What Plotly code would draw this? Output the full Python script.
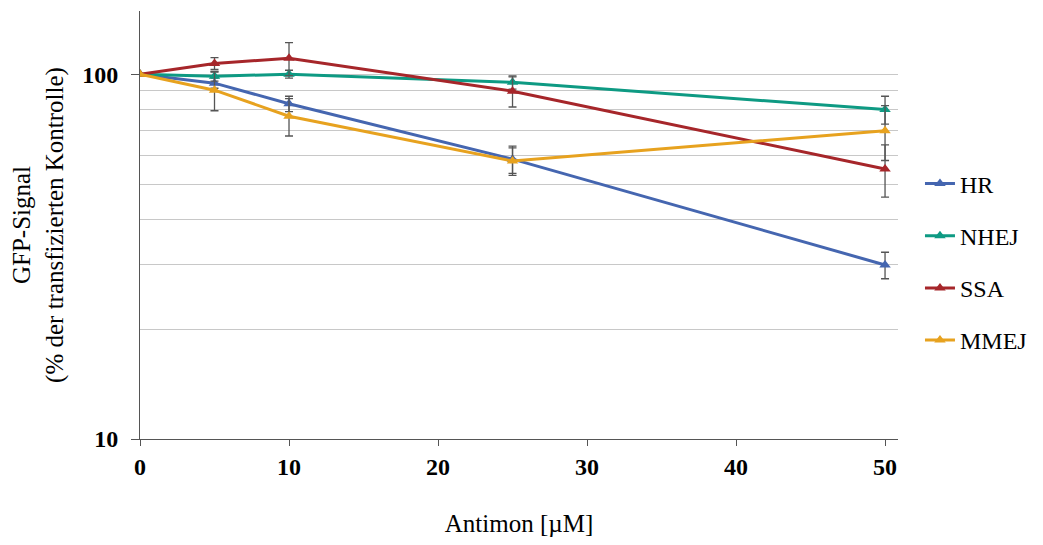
import plotly.graph_objects as go

conc = [0, 5, 10, 25, 50]
series_names = ["HR", "NHEJ", "SSA", "MMEJ"]
hr = [100, 94.5, 83, 58.5, 30]
nhej = [100, 98.7, 100, 95, 80]
ssa = [100, 107, 110.6, 89.8, 55]
mmej = [100, 90.4, 76.7, 57.8, 70]
hr_err = [0, 3, 4, 5, 2.5]
nhej_err = [0, 3, 2.5, 4, 7]
ssa_err = [0, 4, 11.5, 8.5, 9]
mmej_err = [0, 11, 9, 5, 12]
colors = ["#4566b0", "#0e9a83", "#a6262a", "#e7a21f"]

x_ticks = [0, 10, 20, 30, 40, 50]
y_major = [10, 100]
y_minor = [20, 30, 40, 50, 60, 70, 80, 90, 149]

values = [hr, nhej, ssa, mmej]
errors = [hr_err, nhej_err, ssa_err, mmej_err]

fig = go.Figure()
for name, v, e, c in zip(series_names, values, errors, colors):
    fig.add_trace(go.Scatter(
        x=conc, y=v, name=name, mode="lines+markers",
        line=dict(color=c, width=3),
        marker=dict(symbol="triangle-up", size=10, color=c),
        error_y=dict(type="data", array=e, visible=True, color="#555555",
                     thickness=1.3, width=4),
        legendgroup=name,
    ))

font_family = "Liberation Serif"
fig.update_layout(
    width=1027, height=529,
    margin=dict(l=132, r=137, t=3, b=98),
    paper_bgcolor="white", plot_bgcolor="white",
    font=dict(family=font_family, size=25, color="black"),
    showlegend=True,
    legend=dict(xref="container", yref="container", x=0.888, y=0.52,
                xanchor="left", yanchor="middle",
                font=dict(size=24, family=font_family), tracegroupgap=18,
                itemwidth=30),
    xaxis=dict(
        range=[0, 50.87], tickvals=x_ticks, ticks="outside", ticklen=6,
        tickcolor="#555555", showline=True, linecolor="#555555", linewidth=1,
        showgrid=False, zeroline=False,
        tickfont=dict(size=24, family=font_family, weight="bold"),
        title=dict(text="Antimon [µM]", font=dict(size=25, family=font_family),
                   standoff=38),
    ),
    yaxis=dict(
        type="log", range=[1, 2.1732], tickvals=y_major, ticktext=["10", "100"],
        ticks="outside", ticklen=8, tickcolor="#555555", ticklabelstandoff=8,
        showline=True, linecolor="#555555", linewidth=1,
        showgrid=True, gridcolor="#c8c8c8", gridwidth=1,
        minor=dict(tickvals=y_minor, showgrid=True, gridcolor="#c8c8c8",
                   gridwidth=1, ticks=""),
        tickfont=dict(size=24, family=font_family, weight="bold"),
        title=dict(text="GFP-Signal<br>(% der transfizierten Kontrolle)",
                   font=dict(size=25, family=font_family), standoff=14),
    ),
)

fig.write_html("out.html")
